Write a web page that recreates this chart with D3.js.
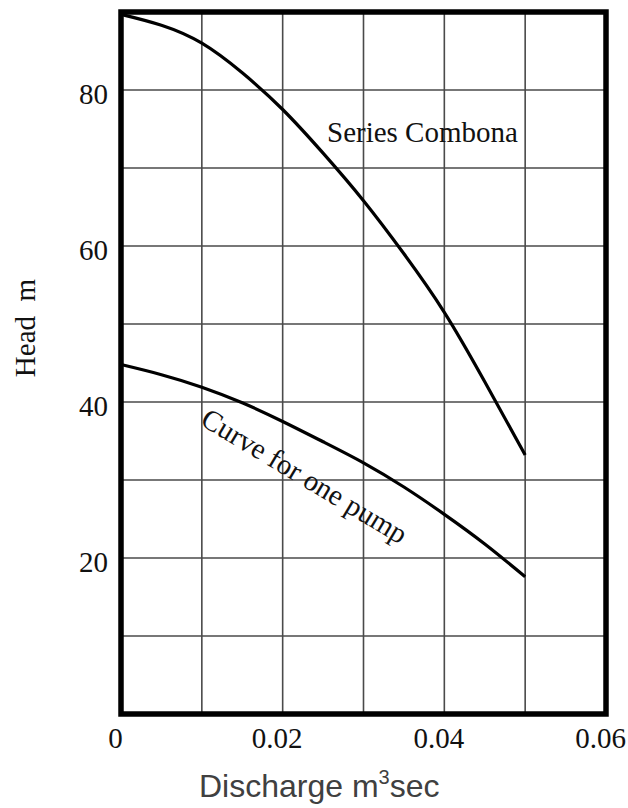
<!DOCTYPE html>
<html>
<head>
<meta charset="utf-8">
<script src="https://cdn.jsdelivr.net/npm/d3@7"></script>
<style>
  body { margin: 0; background: #fff; }
  svg { display: block; }
  .serif { font-family: "Liberation Serif", "Times New Roman", serif; fill: #111; }
</style>
</head>
<body>
<svg id="chart" width="628" height="808"></svg>
<script>
// discharge (m3/sec) at which the curves were read
var flow = [0, 0.005, 0.01, 0.015, 0.02, 0.025, 0.03, 0.035, 0.04, 0.045, 0.05];
// head (m) for two pumps in series
var seriesHead = [89.7, 88.3, 86.0, 82.2, 77.5, 71.9, 65.8, 59.0, 51.5, 42.6, 33.2];
// head (m) for one pump
var singleHead = [44.8, 43.5, 41.9, 39.9, 37.5, 34.9, 32.2, 29.1, 25.6, 21.8, 17.6];

var xGrid = [0.01, 0.02, 0.03, 0.04, 0.05];
var yGrid = [10, 20, 30, 40, 50, 60, 70, 80];
var xTickValues = [0, 0.02, 0.04, 0.06];
var xTickLabels = ['0', '0.02', '0.04', '0.06'];
var yTickValues = [20, 40, 60, 80];

var svg = d3.select('#chart');

var x = d3.scaleLinear().domain([0, 0.06]).range([121, 606]);
var y = d3.scaleLinear().domain([0, 90]).range([714, 12]);

// grid
svg.append('g')
    .selectAll('line.vgrid')
    .data(xGrid)
    .enter()
    .append('line')
    .attr('x1', function(d) { return x(d); })
    .attr('x2', function(d) { return x(d); })
    .attr('y1', y(90))
    .attr('y2', y(0))
    .attr('stroke', '#4a4a4a')
    .attr('stroke-width', 1.6);

svg.append('g')
    .selectAll('line.hgrid')
    .data(yGrid)
    .enter()
    .append('line')
    .attr('x1', x(0))
    .attr('x2', x(0.06))
    .attr('y1', function(d) { return y(d); })
    .attr('y2', function(d) { return y(d); })
    .attr('stroke', '#4a4a4a')
    .attr('stroke-width', 1.6);

// curves
var line = d3.line()
    .x(function(d) { return x(d[0]); })
    .y(function(d) { return y(d[1]); })
    .curve(d3.curveNatural);

[seriesHead, singleHead].forEach(function(head) {
  svg.append('path')
      .datum(d3.zip(flow, head))
      .attr('d', line)
      .attr('fill', 'none')
      .attr('stroke', '#000')
      .attr('stroke-width', 3.2);
});

// frame
svg.append('rect')
    .attr('x', x(0))
    .attr('y', y(90))
    .attr('width', x(0.06) - x(0))
    .attr('height', y(0) - y(90))
    .attr('fill', 'none')
    .attr('stroke', '#000')
    .attr('stroke-width', 5.5);

// y ticks
var yAxis = svg.append('g')
    .attr('transform', 'translate(' + x(0) + ',0)')
    .call(d3.axisLeft(y).tickValues(yTickValues).tickSize(0).tickPadding(13));
yAxis.select('.domain').remove();
yAxis.selectAll('text')
    .attr('class', 'serif')
    .attr('font-size', 29)
    .attr('dy', '0.45em');

// x ticks
var xAxis = svg.append('g')
    .attr('transform', 'translate(0,' + y(0) + ')')
    .call(d3.axisBottom(x).tickValues(xTickValues)
        .tickFormat(function(d, i) { return xTickLabels[i]; })
        .tickSize(0).tickPadding(13));
xAxis.select('.domain').remove();
xAxis.selectAll('text')
    .attr('class', 'serif')
    .attr('font-size', 29)
    .attr('dx', -6);

// curve labels
svg.append('text')
    .attr('class', 'serif')
    .attr('x', 327)
    .attr('y', 142)
    .attr('font-size', 29)
    .text('Series Combona');

svg.append('text')
    .attr('class', 'serif')
    .attr('font-size', 29)
    .attr('transform', 'translate(199,424) rotate(31)')
    .text('Curve for one pump');

// axis titles
svg.append('text')
    .attr('class', 'serif')
    .attr('font-size', 29)
    .attr('text-anchor', 'middle')
    .style('white-space', 'pre')
    .attr('transform', 'translate(35,328) rotate(-90)')
    .text('Head  m');

var xTitle = svg.append('text')
    .attr('x', 199)
    .attr('y', 797)
    .attr('font-family', '"Liberation Sans", Arial, sans-serif')
    .attr('font-size', 32)
    .attr('fill', '#404040');
xTitle.append('tspan').text('Discharge m');
xTitle.append('tspan').attr('font-size', 20).attr('dy', -13).text('3');
xTitle.append('tspan').attr('dy', 13).text('sec');
</script>
</body>
</html>
